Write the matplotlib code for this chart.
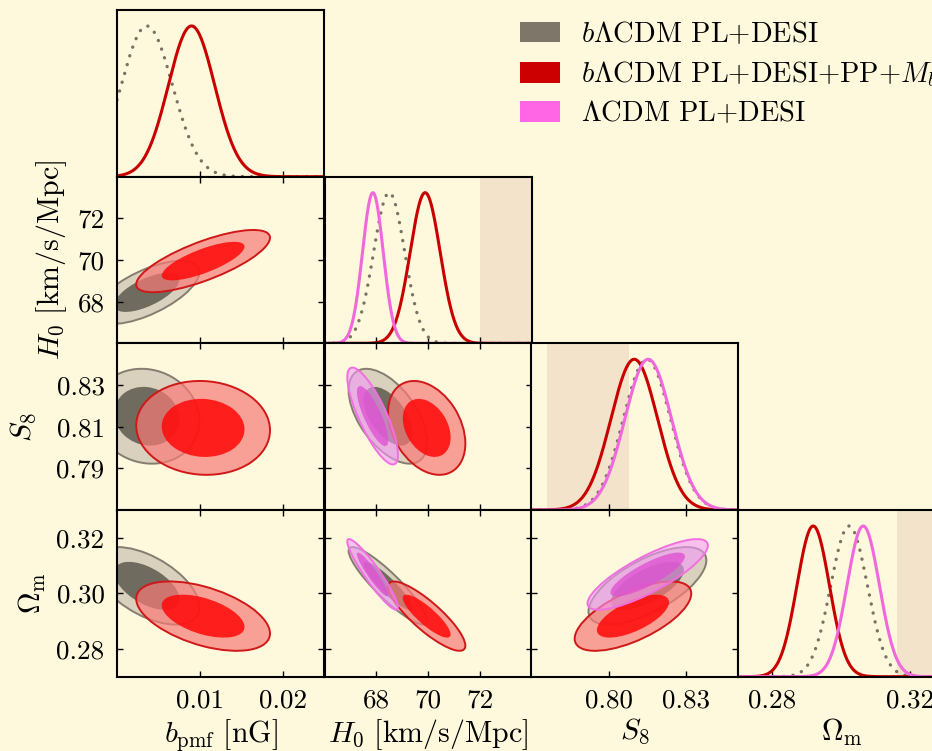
import numpy as np
import matplotlib
matplotlib.use("Agg")
import matplotlib.pyplot as plt
from matplotlib.patches import Circle, Patch
from matplotlib.transforms import Affine2D

plt.rcParams.update({
    "font.family": "serif",
    "font.serif": ["cmr10"],
    "mathtext.fontset": "cm",
    "axes.formatter.use_mathtext": True,
    "axes.unicode_minus": False,
    "axes.linewidth": 1.5,
})

BG = "#fef9dd"
BAND_COLOR = "#f3e3cb"

# parameters: b_pmf, H0, S8, Omega_m
LIMITS = [(0.0, 0.025), (66.0, 74.0), (0.77, 0.85), (0.27, 0.33)]
AXIS_LABELS = [r"$b_{\rm pmf}\ [{\rm nG}]$", r"$H_0\ [{\rm km/s/Mpc}]$",
               r"$S_8$", r"$\Omega_{\rm m}$"]
XTICKS = [[0.01, 0.02], [68, 70, 72], [0.80, 0.83], [0.28, 0.32]]
XTICKLABELS = [["0.01", "0.02"], ["68", "70", "72"], ["0.80", "0.83"], ["0.28", "0.32"]]
YTICKS = [[], [68, 70, 72], [0.79, 0.81, 0.83], [0.28, 0.30, 0.32]]
YTICKLABELS = [[], ["68", "70", "72"], ["0.79", "0.81", "0.83"], ["0.28", "0.30", "0.32"]]

# external priors shown as bands on the 1D panels (lo, hi)
BAND_PARAM = [1, 2, 3]
BAND_LO = [72.00, 0.776, 0.316]
BAND_HI = [74.08, 0.808, 0.352]

# 1D marginals (mean, sigma); None = parameter not in model
GRAY_MEAN_1D = [0.0036, 68.50, 0.8148, 0.3022]
GRAY_SIG_1D = [0.0031, 0.60, 0.0091, 0.0053]
RED_MEAN_1D = [0.0090, 69.89, 0.8099, 0.2918]
RED_SIG_1D = [0.0028, 0.58, 0.0090, 0.0047]
PINK_MEAN_1D = [None, 67.87, 0.8153, 0.3063]
PINK_SIG_1D = [None, 0.40, 0.0090, 0.0047]

# 2D contours (mean, sigma, correlation per pair (row, col))
GRAY_MEAN_2D = [0.0036, 68.45, 0.8150, 0.3027]
GRAY_SIG_2D = [0.0026, 0.62, 0.0093, 0.0057]
GRAY_RHO = {(1, 0): 0.65, (2, 0): -0.10, (3, 0): -0.55,
            (2, 1): -0.55, (3, 1): -0.90, (3, 2): 0.66}
RED_MEAN_2D = [0.0104, 69.95, 0.8094, 0.2918]
RED_SIG_2D = [0.0033, 0.61, 0.0092, 0.0051]
RED_RHO = {(1, 0): 0.75, (2, 0): -0.05, (3, 0): -0.50,
           (2, 1): -0.33, (3, 1): -0.85, (3, 2): 0.65}
PINK_MEAN_2D = [None, 67.86, 0.8151, 0.3068]
PINK_SIG_2D = [None, 0.40, 0.0095, 0.0052]
PINK_RHO = {(2, 1): -0.80, (3, 1): -0.93, (3, 2): 0.82}

LEGEND_LABELS = [r"$b\Lambda$CDM PL+DESI", r"$b\Lambda$CDM PL+DESI+PP+$M_b$",
                 r"$\Lambda$CDM PL+DESI"]

# fills for the 95% / 68% regions, edge line, 1D line and legend colours
STYLES = {
    "gray": dict(outer="#dad0be", a_out=1.0, inner="#6f6b5f", a_in=1.0,
                 edge="#857d70", line="#7a7262", legend="#7d7669"),
    "red": dict(outer="#f87a78", a_out=0.7, inner="#ff0808", a_in=0.85,
                edge="#d01818", line="#c80000", legend="#cc0000"),
    "pink": dict(outer="#f49af9", a_out=0.6, inner="#df53d1", a_in=0.8,
                 edge="#f070e0", line="#f068dc", legend="#ff66e6"),
}
K1, K2 = 1.515, 2.448  # 68% and 95% radii for 2D gaussian

W, H = 932, 751
COL_X = [117, 324.5, 531, 738]
ROW_Y = [10, 176.7, 343.3, 510]
PW, PH = 207, 166.7

fig = plt.figure(figsize=(W / 100, H / 100), dpi=100, facecolor=BG)


def make_ax(row, col):
    rect = [COL_X[col] / W, 1 - (ROW_Y[row] + PH) / H, PW / W, PH / H]
    ax = fig.add_axes(rect, facecolor=BG)
    ax.tick_params(direction="in", length=4, width=1.0, labelsize=19.5,
                   pad=9)
    return ax


def draw_ellipse(ax, mx, my, sx, sy, rho, k, **kw):
    # unit circle mapped through the cholesky factor of the covariance
    tr = Affine2D(np.array([[sx, 0, mx],
                            [rho * sy, sy * np.sqrt(1 - rho ** 2), my],
                            [0, 0, 1]]))
    c = Circle((0, 0), k, transform=tr + ax.transData, **kw)
    ax.add_patch(c)


def contours(ax, i, j, mean, sig, rho, st):
    if mean[i] is None or mean[j] is None:
        return
    r = rho[(i, j)]
    draw_ellipse(ax, mean[j], mean[i], sig[j], sig[i], r, K2,
                 facecolor=st["outer"], alpha=st["a_out"], edgecolor="none")
    draw_ellipse(ax, mean[j], mean[i], sig[j], sig[i], r, K1,
                 facecolor=st["inner"], alpha=st["a_in"], edgecolor="none")
    draw_ellipse(ax, mean[j], mean[i], sig[j], sig[i], r, K2,
                 facecolor="none", edgecolor=st["edge"], lw=1.4)


ylabel_x = [None, -0.232, -0.38, -0.335]

for i in range(4):
    for j in range(i + 1):
        ax = make_ax(i, j)
        ax.set_xlim(LIMITS[j])
        ax.set_xticks(XTICKS[j])
        ax.set_xticklabels(XTICKLABELS[j] if i == 3 else [])
        if i == j:
            # 1D marginal
            ax.set_ylim(0, 1.106)
            ax.set_yticks([])
            ax.tick_params(top=False, right=False, left=False)
            if i in BAND_PARAM:
                n = BAND_PARAM.index(i)
                ax.axvspan(BAND_LO[n], BAND_HI[n], color=BAND_COLOR, lw=0, zorder=0)
            x = np.linspace(LIMITS[i][0], LIMITS[i][1], 500)
            for mean, sig, st, ls in [
                    (GRAY_MEAN_1D, GRAY_SIG_1D, STYLES["gray"], (0, (0.05, 2.7))),
                    (RED_MEAN_1D, RED_SIG_1D, STYLES["red"], "-"),
                    (PINK_MEAN_1D, PINK_SIG_1D, STYLES["pink"], "-")]:
                if mean[i] is None:
                    continue
                y = np.exp(-0.5 * ((x - mean[i]) / sig[i]) ** 2)
                lw = 2.2 if ls == "-" else 2.4
                ax.plot(x, y, color=st["line"], lw=lw, ls=ls,
                        dash_capstyle="round", solid_capstyle="round")
        else:
            ax.set_ylim(LIMITS[i])
            ax.set_yticks(YTICKS[i])
            ax.set_yticklabels(YTICKLABELS[i] if j == 0 else [])
            ax.tick_params(top=True, right=True)
            contours(ax, i, j, GRAY_MEAN_2D, GRAY_SIG_2D, GRAY_RHO, STYLES["gray"])
            contours(ax, i, j, RED_MEAN_2D, RED_SIG_2D, RED_RHO, STYLES["red"])
            contours(ax, i, j, PINK_MEAN_2D, PINK_SIG_2D, PINK_RHO, STYLES["pink"])
            if j == 0:
                ax.set_ylabel(AXIS_LABELS[i], fontsize=21.5)
                ax.yaxis.set_label_coords(ylabel_x[i], 0.5)
        if i == 3:
            ax.set_xlabel(AXIS_LABELS[j], fontsize=21.5, va="top")
            ax.xaxis.set_label_coords(0.5, -0.24)

handles = [Patch(facecolor=STYLES[k]["legend"], edgecolor="none")
           for k in ["gray", "red", "pink"]]
fig.legend(handles, LEGEND_LABELS, loc="upper left",
           bbox_to_anchor=(520 / W, 1 - 21 / H), frameon=False,
           fontsize=20.5, handlelength=1.42, handleheight=0.74,
           handletextpad=0.72, labelspacing=0.4, borderpad=0,
           borderaxespad=0)

fig.savefig("out.png", dpi=100, facecolor=BG)
